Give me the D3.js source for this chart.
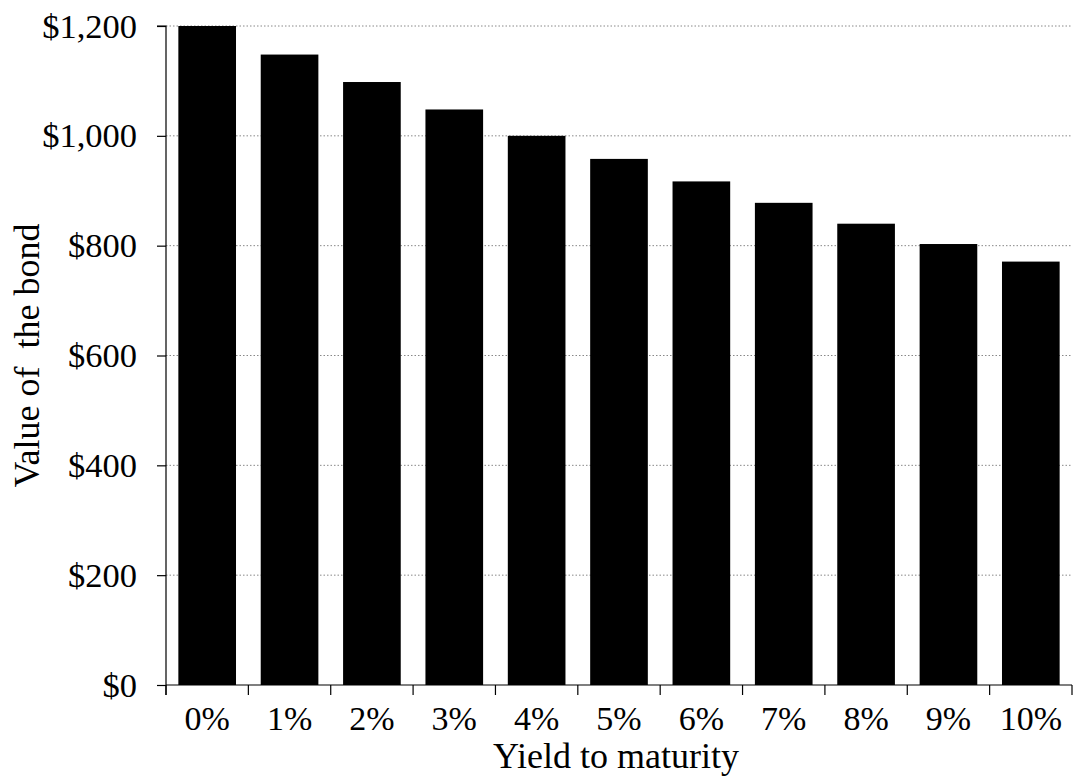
<!DOCTYPE html>
<html>
<head>
<meta charset="utf-8">
<script src="https://cdn.jsdelivr.net/npm/d3@7"></script>
<style>
  html, body { margin: 0; padding: 0; background: #fff; }
  svg { display: block; }
  text { font-family: "Liberation Serif", "DejaVu Serif", serif; fill: #000; }
</style>
</head>
<body>
<svg id="chart" width="1073" height="781"></svg>
<script>
const categories = ["0%", "1%", "2%", "3%", "4%", "5%", "6%", "7%", "8%", "9%", "10%"];
const values = [1200, 1148, 1098, 1048, 1000, 958, 917, 878, 840, 803, 771];
const yTicks = [0, 200, 400, 600, 800, 1000, 1200];
const xTitle = "Yield to maturity";
const yTitle = "Value of  the bond";

const svg = d3.select("#chart");
const mLeft = 166, mRight = 1072, mTop = 26, mBottom = 685;

const x = d3.scaleBand().domain(categories).range([mLeft, mRight]).paddingInner(0.3).paddingOuter(0.15);
const y = d3.scaleLinear().domain([0, 1200]).range([mBottom, mTop]);
const fmt = v => "$" + d3.format(",")(v);

// gridlines
svg.append("g").selectAll("line").data(yTicks.filter(d => d > 0)).join("line")
  .attr("x1", mLeft).attr("x2", mRight)
  .attr("y1", d => y(d)).attr("y2", d => y(d))
  .attr("stroke", "#888").attr("stroke-width", 1)
  .attr("stroke-dasharray", "1.5,2");

// bars
svg.append("g").selectAll("rect").data(categories).join("rect")
  .attr("x", d => x(d))
  .attr("width", x.bandwidth())
  .attr("y", (d, i) => y(values[i]))
  .attr("height", (d, i) => y(0) - y(values[i]))
  .attr("fill", "#000");

// y axis
const yAxis = svg.append("g").attr("transform", `translate(${mLeft},0)`)
  .call(d3.axisLeft(y).tickValues(yTicks).tickFormat(fmt).tickSize(9).tickPadding(20));
yAxis.select(".domain").attr("d", `M-9,${mTop}H0V${mBottom + 10}`).attr("stroke", "#000").attr("stroke-width", 1.2);
yAxis.selectAll(".tick line").attr("stroke", "#000").attr("stroke-width", 1.2);
yAxis.selectAll(".tick text").attr("font-size", 34.5).attr("font-family", "Liberation Serif");

// x axis
const xg = svg.append("g");
xg.append("line").attr("x1", mLeft).attr("x2", mRight).attr("y1", mBottom).attr("y2", mBottom)
  .attr("stroke", "#000").attr("stroke-width", 1.2);
const step = x.step();
const bounds = categories.map(c => x(c) - step * x.paddingInner() / 2).concat([x(categories[categories.length - 1]) + x.bandwidth() + step * x.paddingInner() / 2]);
xg.selectAll("line.tk").data(bounds).join("line").attr("class", "tk")
  .attr("x1", d => Math.min(Math.max(d, mLeft), mRight)).attr("x2", d => Math.min(Math.max(d, mLeft), mRight))
  .attr("y1", mBottom).attr("y2", mBottom + 10)
  .attr("stroke", "#000").attr("stroke-width", 1.2);
xg.selectAll("text").data(categories).join("text")
  .attr("x", d => x(d) + x.bandwidth() / 2)
  .attr("y", 730)
  .attr("text-anchor", "middle")
  .attr("font-size", 34)
  .text(d => d);

// titles
svg.append("text").attr("x", 616).attr("y", 768)
  .attr("text-anchor", "middle").attr("font-size", 36).text(xTitle);
svg.append("text").attr("transform", `translate(39,${(mTop + mBottom) / 2}) rotate(-90)`)
  .attr("text-anchor", "middle").attr("font-size", 36).attr("xml:space", "preserve")
  .style("white-space", "pre").text(yTitle);
</script>
</body>
</html>
